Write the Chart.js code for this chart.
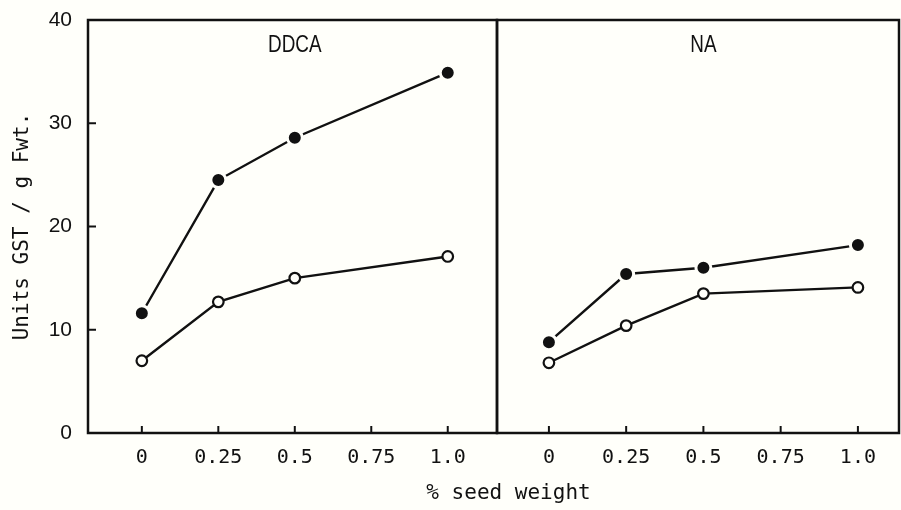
<!DOCTYPE html>
<html>
<head>
<meta charset="utf-8">
<script src="https://cdn.jsdelivr.net/npm/chart.js@4/dist/chart.umd.min.js"></script>
<style>
  html, body { margin: 0; padding: 0; background: #fffffa; }
  #wrap { width: 901px; height: 510px; }
</style>
</head>
<body>
<div id="wrap"><canvas id="c" width="901" height="510"></canvas></div>
<script>
// ---- data ----
const panels = ['DDCA', 'NA'];
const doses = [0, 0.25, 0.5, 1.0];                 // % seed weight
const xTickValues = [0, 0.25, 0.5, 0.75, 1.0];
const xTickLabels = ['0', '0.25', '0.5', '0.75', '1.0'];
const yTickValues = [0, 10, 20, 30, 40];
const ddcaFilled = [11.6, 24.5, 28.6, 34.9];
const ddcaOpen   = [7.0, 12.7, 15.0, 17.1];
const naFilled   = [8.8, 15.4, 16.0, 18.2];
const naOpen     = [6.8, 10.4, 13.5, 14.1];
const yTitle = 'Units GST / g Fwt.';
const xTitle = '% seed weight';

const BG = '#fffffa';
const INK = '#111111';

function pts(vals) { return doses.map((d, i) => ({ x: d, y: vals[i] })); }

function filledSet(vals, axis) {
  return {
    data: pts(vals), xAxisID: axis, yAxisID: 'y',
    borderColor: INK, borderWidth: 2.4,
    pointRadius: 7.5, pointBackgroundColor: INK, pointBorderColor: BG, pointBorderWidth: 3,
    tension: 0, fill: false
  };
}
function openSet(vals, axis) {
  return {
    data: pts(vals), xAxisID: axis, yAxisID: 'y',
    borderColor: INK, borderWidth: 2.4,
    pointRadius: 5.3, pointBackgroundColor: BG, pointBorderColor: INK, pointBorderWidth: 2.2,
    tension: 0, fill: false
  };
}

const framePlugin = {
  id: 'frame',
  afterDatasetsDraw(chart) {
    const ctx = chart.ctx;
    const ca = chart.chartArea;
    const ys = chart.scales.y;
    ctx.save();
    ctx.strokeStyle = INK;
    ['x1', 'x2'].forEach((id, k) => {
      const s = chart.scales[id];
      ctx.lineWidth = 2.5;
      ctx.strokeRect(s.left, ca.top, s.right - s.left, ca.bottom - ca.top);
      // inward ticks on x
      ctx.lineWidth = 2;
      s.ticks.forEach(t => {
        const px = s.getPixelForValue(t.value);
        ctx.beginPath();
        ctx.moveTo(px, ca.bottom);
        ctx.lineTo(px, ca.bottom - 7);
        ctx.stroke();
      });
      // panel label (narrow sans)
      ctx.save();
      ctx.fillStyle = INK;
      ctx.font = "23px 'Liberation Sans', Arial, sans-serif";
      ctx.textAlign = 'center';
      ctx.textBaseline = 'middle';
      ctx.translate(s.getPixelForValue(0.5), ca.top + 26);
      ctx.scale(0.82, 1);
      ctx.fillText(panels[k], 0, 0);
      ctx.restore();
    });
    // inward ticks on y
    ctx.lineWidth = 2;
    yTickValues.slice(1, -1).forEach(v => {
      const py = ys.getPixelForValue(v);
      ctx.beginPath();
      ctx.moveTo(ca.left, py);
      ctx.lineTo(ca.left + 8, py);
      ctx.stroke();
    });
    // x title spanning both panels
    ctx.fillStyle = INK;
    ctx.font = "21px 'DejaVu Sans Mono', monospace";
    ctx.textAlign = 'center';
    ctx.textBaseline = 'middle';
    ctx.fillText(xTitle, (ca.left + ca.right) / 2 + 15, 494);
    ctx.restore();
  }
};

const bgPlugin = {
  id: 'bg',
  beforeDraw(chart) {
    const ctx = chart.ctx;
    ctx.save();
    ctx.fillStyle = BG;
    ctx.fillRect(0, 0, chart.width, chart.height);
    ctx.restore();
  }
};

function xScale(min, max, weight) {
  return {
    type: 'linear', position: 'bottom', stack: 'panels', stackWeight: weight,
    min: min, max: max,
    grid: { display: false, drawTicks: true, tickLength: 13 },
    border: { display: false },
    afterBuildTicks: s => { s.ticks = xTickValues.map(v => ({ value: v })); },
    afterFit: s => { s.height = 77; s.paddingLeft = 0; s.paddingRight = 0; },
    ticks: {
      color: INK, padding: 0, maxRotation: 0, autoSkip: false,
      font: { family: "'DejaVu Sans Mono', monospace", size: 20 },
      callback: v => xTickLabels[xTickValues.indexOf(v)]
    }
  };
}

new Chart(document.getElementById('c'), {
  type: 'line',
  data: {
    datasets: [
      openSet(ddcaOpen, 'x1'), filledSet(ddcaFilled, 'x1'),
      openSet(naOpen, 'x2'), filledSet(naFilled, 'x2')
    ]
  },
  options: {
    responsive: false, animation: false,
    layout: { autoPadding: false, padding: { top: 20, right: 2, left: 0, bottom: 0 } },
    plugins: { legend: { display: false }, tooltip: { enabled: false } },
    scales: {
      x1: xScale(-0.176, 1.161, 409),
      x2: xScale(-0.168, 1.133, 402),
      y: {
        type: 'linear', position: 'left', min: 0, max: 40,
        grid: { display: false, drawTicks: true, tickLength: 16 },
        border: { display: false },
        afterBuildTicks: s => { s.ticks = yTickValues.map(v => ({ value: v })); },
        afterFit: s => { s.width = 88; },
        ticks: {
          color: INK, padding: 0,
          font: { family: "'Liberation Sans', Arial, sans-serif", size: 21 }
        },
        title: {
          display: true, text: yTitle, color: INK,
          font: { family: "'DejaVu Sans Mono', monospace", size: 21 },
          padding: { top: 10, bottom: 0 }
        }
      }
    }
  },
  plugins: [bgPlugin, framePlugin]
});
</script>
</body>
</html>
